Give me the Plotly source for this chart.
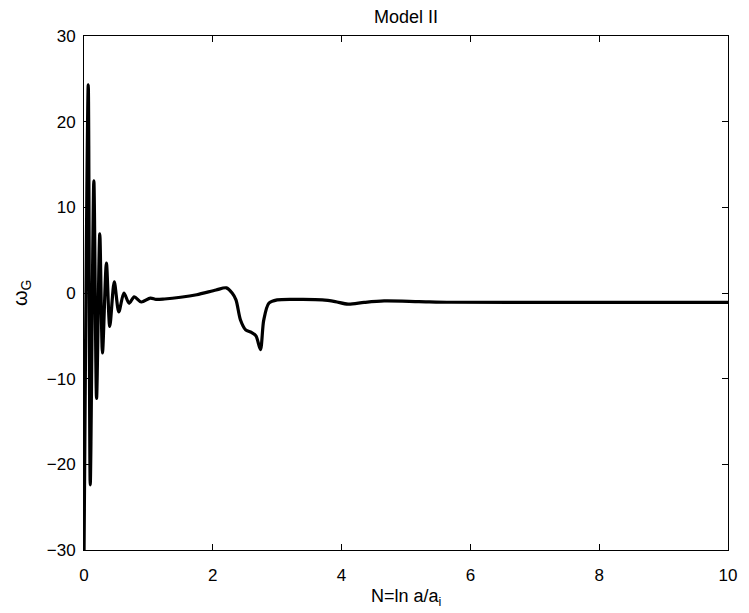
import plotly.graph_objects as go

# Key points of omega_G vs N
N_vals = [0.0, 0.066, 0.097, 0.153, 0.195, 0.245, 0.287, 0.348, 0.40, 0.47, 0.54, 0.62, 0.70,
          0.78, 0.89, 1.03, 1.12, 1.25, 1.5, 1.75, 2.05, 2.21, 2.3, 2.36, 2.43, 2.51, 2.6,
          2.67, 2.74, 2.79, 2.87, 3.0, 3.4, 3.7, 3.9, 4.1, 4.35, 4.66, 5.2, 5.7, 7.7, 10.0]
omega_G = [-31.0, 24.3, -22.4, 13.1, -12.3, 6.9, -7.0, 3.5, -3.9, 1.3, -2.2, 0.0, -1.2,
           -0.45, -1.05, -0.6, -0.75, -0.7, -0.5, -0.2, 0.35, 0.6, 0.0, -0.8, -3.15, -4.3, -4.6,
           -5.0, -6.6, -3.2, -1.2, -0.8, -0.75, -0.8, -1.0, -1.3, -1.1, -0.93, -1.0, -1.08, -1.1, -1.1]

x_ticks = [0, 2, 4, 6, 8, 10]
y_ticks = [-30, -20, -10, 0, 10, 20, 30]

fig = go.Figure()
fig.add_trace(go.Scatter(x=N_vals, y=omega_G, mode="lines",
                         line=dict(color="black", width=3.2, shape="spline", smoothing=0.8),
                         showlegend=False))

axis_common = dict(showgrid=False, zeroline=False, showline=True, linecolor="black",
                   linewidth=1, mirror="ticks", ticks="inside", ticklen=6,
                   tickcolor="black", tickfont=dict(size=17, color="black"))

fig.update_layout(
    width=749, height=613,
    margin=dict(l=84, r=14, t=36, b=63),
    paper_bgcolor="white", plot_bgcolor="white",
    font=dict(family="Liberation Sans, Arial, sans-serif", color="black"),
    xaxis=dict(range=[0, 10], tickvals=x_ticks, ticklabelstandoff=10, **axis_common),
    yaxis=dict(range=[-30, 30], tickvals=y_ticks, ticklabelstandoff=4, **axis_common),
    annotations=[
        dict(text="Model II", x=0.5, y=1, xref="paper", yref="paper",
             xanchor="center", yanchor="bottom", yshift=7, showarrow=False,
             font=dict(size=18)),
        dict(text="N=ln a/a<sub>i</sub>", x=0.5, y=0, xref="paper", yref="paper",
             xanchor="center", yanchor="middle", yshift=-47, showarrow=False,
             font=dict(size=18)),
        dict(text="ω<sub>G</sub>", x=0, y=0.5, xref="paper", yref="paper",
             xanchor="center", yanchor="middle", xshift=-63, textangle=-90,
             showarrow=False, font=dict(size=20)),
    ],
)

fig.write_html("out.html")
